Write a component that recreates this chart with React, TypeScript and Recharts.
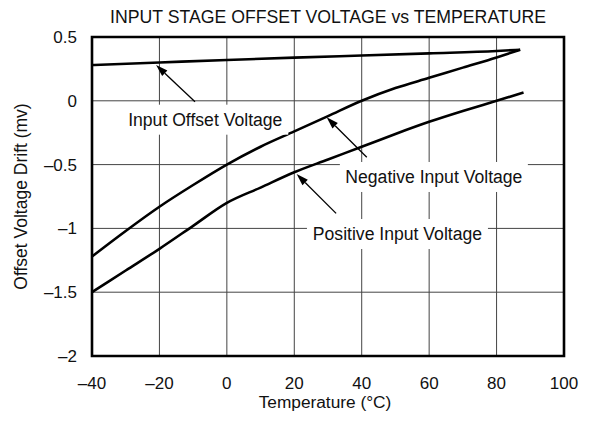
import React from 'react';
import {
  LineChart,
  Line,
  XAxis,
  YAxis,
  CartesianGrid,
  ReferenceLine,
  ReferenceDot,
  ReferenceArea,
} from 'recharts';

const FONT = '"Liberation Sans", Arial, Helvetica, sans-serif';

// axis ticks
const xTicks = [-40, -20, 0, 20, 40, 60, 80, 100];
const yTicks = [-2, -1.5, -1, -0.5, 0, 0.5];

// Input Offset Voltage curve
const offsetTemps = [-40, -20, 0, 20, 40, 60, 80, 87];
const offsetVolts = [0.28, 0.3, 0.32, 0.338, 0.355, 0.372, 0.39, 0.4];

// Negative Input Voltage curve
const negTemps = [-40, -30, -20, -10, 0, 10, 20, 30, 40, 50, 60, 70, 80, 87];
const negVolts = [-1.22, -1.02, -0.83, -0.66, -0.5, -0.36, -0.24, -0.12, 0.0, 0.1, 0.18, 0.26, 0.34, 0.4];

// Positive Input Voltage curve
const posTemps = [-40, -30, -20, -10, 0, 10, 20, 30, 40, 50, 60, 70, 80, 88];
const posVolts = [-1.5, -1.33, -1.16, -0.98, -0.8, -0.68, -0.56, -0.46, -0.36, -0.26, -0.165, -0.08, 0.0, 0.065];

// callouts: text, anchor point (data units), arrow start / tip (data units)
const calloutText = ['Input Offset Voltage', 'Negative Input Voltage', 'Positive Input Voltage'];
const calloutX = [-6.4, 61.4, 50.6];
const calloutY = [-0.148, -0.597, -1.044];
const calloutBoxW = [166, 188, 181];
const arrowFrom = [
  [-9.45, -0.007],
  [41.5, -0.443],
  [32.4, -0.882],
];
const arrowTo = [
  [-21, 0.281],
  [29.6, -0.129],
  [20.7, -0.574],
];

const toSeries = (ts: number[], vs: number[]) => ts.map((t, i) => ({ t, v: vs[i] }));

const fmt = (v: number) => (v < 0 ? '\u2013' + Math.abs(v) : String(v));

const Arrow = (props: any) => {
  const { x1, y1, x2, y2 } = props;
  const ang = Math.atan2(y2 - y1, x2 - x1);
  const len = 12;
  const half = 3.8;
  const bx = x2 - len * Math.cos(ang);
  const by = y2 - len * Math.sin(ang);
  const px = -Math.sin(ang) * half;
  const py = Math.cos(ang) * half;
  return (
    <g>
      <line x1={x1} y1={y1} x2={bx} y2={by} stroke="#000" strokeWidth={1.3} />
      <polygon points={`${x2},${y2} ${bx + px},${by + py} ${bx - px},${by - py}`} fill="#000" />
    </g>
  );
};

const makeTag = (text: string, w: number) => (props: any) => {
  const { cx, cy } = props;
  return (
    <g>
      <rect x={cx - w / 2} y={cy - 15} width={w} height={30} fill="#fff" />
      <text x={cx} y={cy + 6} textAnchor="middle" fontSize={17.6} fontFamily={FONT} fill="#111">
        {text}
      </text>
    </g>
  );
};

export default function App() {
  const tickStyle = { fontSize: 17, fill: '#111', fontFamily: FONT };
  return (
    <div style={{ position: 'absolute', left: 0, top: 0, width: 591, height: 424, background: '#fff' }}>
      <div
        style={{
          position: 'absolute',
          left: 92,
          width: 472,
          top: 9,
          textAlign: 'center',
          fontSize: 17.7,
          lineHeight: '17px',
          fontFamily: FONT,
          color: '#111',
          whiteSpace: 'nowrap',
        }}
      >
        INPUT STAGE OFFSET VOLTAGE vs TEMPERATURE
      </div>
      <LineChart width={591} height={424} margin={{ top: 37, right: 27, bottom: 38, left: 32 }}>
        <CartesianGrid stroke="#444" strokeWidth={1} />
        <XAxis
          type="number"
          dataKey="t"
          domain={[-40, 100]}
          ticks={xTicks}
          tickFormatter={fmt}
          tick={tickStyle}
          tickLine={false}
          axisLine={false}
          tickMargin={15}
          height={30}
          allowDuplicatedCategory={false}
          label={{
            value: 'Temperature (\u00b0C)',
            position: 'bottom',
            offset: 10,
            dx: -3,
            style: { fontSize: 17.3, fill: '#111', fontFamily: FONT },
          }}
        />
        <YAxis
          type="number"
          domain={[-2, 0.5]}
          ticks={yTicks}
          tickFormatter={fmt}
          tick={tickStyle}
          tickLine={false}
          axisLine={false}
          tickMargin={9}
          width={60}
          label={{
            value: 'Offset Voltage Drift (mv)',
            angle: -90,
            position: 'insideLeft',
            offset: -11,
            style: { fontSize: 17.5, fill: '#111', fontFamily: FONT, textAnchor: 'middle' },
          }}
        />
        {calloutText.map((txt, i) => (
          <ReferenceDot
            key={txt}
            x={calloutX[i]}
            y={calloutY[i]}
            r={1}
            shape={makeTag(txt, calloutBoxW[i])}
          />
        ))}
        <Line
          data={toSeries(offsetTemps, offsetVolts)}
          dataKey="v"
          type="monotone"
          stroke="#000"
          strokeWidth={2.6}
          dot={false}
          isAnimationActive={false}
        />
        <Line
          data={toSeries(negTemps, negVolts)}
          dataKey="v"
          type="monotone"
          stroke="#000"
          strokeWidth={2.6}
          dot={false}
          isAnimationActive={false}
        />
        <Line
          data={toSeries(posTemps, posVolts)}
          dataKey="v"
          type="monotone"
          stroke="#000"
          strokeWidth={2.6}
          dot={false}
          isAnimationActive={false}
        />
        {arrowFrom.map((from, i) => (
          <ReferenceLine
            key={'arrow' + i}
            segment={[
              { x: from[0], y: from[1] },
              { x: arrowTo[i][0], y: arrowTo[i][1] },
            ]}
            shape={Arrow}
          />
        ))}
        <ReferenceArea x1={-40} x2={100} y1={-2} y2={0.5} fill="none" stroke="#000" strokeWidth={2.6} />
      </LineChart>
    </div>
  );
}
